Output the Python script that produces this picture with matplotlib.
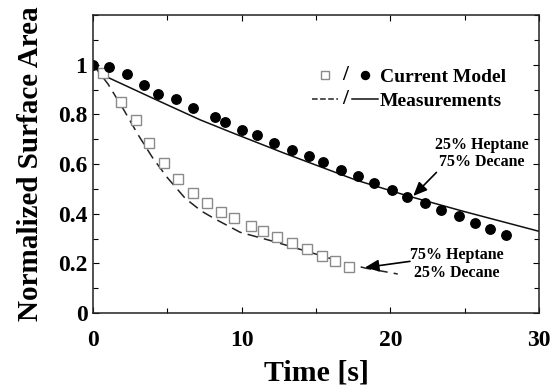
"""Normalized surface area vs time: current model against measurements."""

import matplotlib
matplotlib.use('Agg')
from matplotlib import pyplot as plt
from matplotlib.legend_handler import HandlerBase
from matplotlib.lines import Line2D
from matplotlib.text import Text
from matplotlib.ticker import FixedLocator, MultipleLocator


# Current model, 75% heptane / 25% decane (open squares)
model_hep_t = [0.65, 1.9, 2.9, 3.8, 4.8, 5.7, 6.7, 7.65, 8.6, 9.5, 10.6, 11.45,
               12.4, 13.4, 14.4, 15.4, 16.3, 17.2]
model_hep_a = [0.968, 0.85, 0.777, 0.684, 0.606, 0.538, 0.482, 0.441, 0.408, 0.383,
               0.352, 0.332, 0.306, 0.282, 0.258, 0.231, 0.209, 0.184]

# Current model, 25% heptane / 75% decane (filled circles)
model_dec_t = [0, 1.1, 2.3, 3.4, 4.4, 5.6, 6.7, 8.2, 8.9, 10.0, 11.0, 12.2, 13.4,
               14.5, 15.5, 16.7, 17.8, 18.9, 20.1, 21.1, 22.3, 23.4, 24.6, 25.7,
               26.7, 27.8]
model_dec_a = [1.0, 0.99, 0.964, 0.917, 0.883, 0.861, 0.824, 0.789, 0.768, 0.735,
               0.715, 0.686, 0.656, 0.631, 0.607, 0.575, 0.553, 0.522, 0.494, 0.468,
               0.443, 0.413, 0.389, 0.364, 0.339, 0.314]

# Measurements, 75% heptane / 25% decane (dashed)
meas_hep_t = [0, 1.0, 2.1, 3.0, 4.0, 5.0, 6.2, 7.3, 8.2, 9.9, 12.1, 14.4, 16.6,
              18.3, 20.5]
meas_hep_a = [1.0, 0.923, 0.815, 0.721, 0.626, 0.545, 0.462, 0.41, 0.379, 0.325,
              0.289, 0.248, 0.208, 0.181, 0.157]

# Measurements, 25% heptane / 75% decane (solid)
meas_dec_t = [0, 0.7, 4.2, 7.2, 9.4, 12.8, 17.7, 21.2, 25.0, 30.0]
meas_dec_a = [1.0, 0.957, 0.86, 0.778, 0.725, 0.645, 0.535, 0.471, 0.408, 0.329]

yticks = [0, 0.2, 0.4, 0.6, 0.8, 1.0]
ytick_labels = ['0', '0.2', '0.4', '0.6', '0.8', '1']
xticks = [0, 10, 20, 30]

FONT = 'Liberation Serif'
plt.rcParams['font.family'] = FONT
plt.rcParams['font.weight'] = 'bold'


class PairHandler(HandlerBase):
    """Legend entry drawn as: first symbol / second symbol."""

    def create_artists(self, legend, orig_handle, xdescent, ydescent,
                       width, height, fontsize, trans):
        y = height / 2 - ydescent
        seg = width * 0.4
        arts = []
        for h, x0 in ((orig_handle[0], -xdescent),
                      (orig_handle[1], width - seg - xdescent)):
            if h.get_linestyle() in ('None', ''):
                a = Line2D([x0 + seg / 2], [y], ls='None', marker=h.get_marker(),
                           markersize=h.get_markersize() * 0.85,
                           mfc=h.get_markerfacecolor(), mec=h.get_markeredgecolor(),
                           mew=h.get_markeredgewidth())
            else:
                a = Line2D([x0, x0 + seg], [y, y], color=h.get_color(),
                           lw=h.get_linewidth(), ls=h.get_linestyle())
            a.set_transform(trans)
            arts.append(a)
        s = Text(width / 2 - xdescent, y, '/', ha='center', va='center',
                 fontsize=fontsize * 1.1, fontweight='bold', family=FONT)
        s.set_transform(trans)
        arts.append(s)
        return arts


fig = plt.figure(figsize=(5.6, 3.9), dpi=100)
ax = fig.add_axes([93 / 560, 1 - 313 / 390, 446 / 560, 298 / 390])

dash, = ax.plot(meas_hep_t, meas_hep_a, color='#222222', lw=1.1, ls=(0, (7, 4)))
solid, = ax.plot(meas_dec_t, meas_dec_a, color='#111111', lw=1.1)
sq, = ax.plot(model_hep_t, model_hep_a, ls='None', marker='s', ms=7.5,
              mfc='white', mec='#8a8a8a', mew=1.0)
circ, = ax.plot(model_dec_t, model_dec_a, ls='None', marker='o', ms=6.8,
                mfc='black', mec='black')

ax.set_xlim(0, 30)
ax.set_ylim(0, 1.2)
ax.xaxis.set_major_locator(FixedLocator(xticks))
ax.xaxis.set_minor_locator(MultipleLocator(5))
ax.yaxis.set_major_locator(FixedLocator(yticks))
ax.yaxis.set_minor_locator(MultipleLocator(0.1))
ax.set_yticklabels(ytick_labels)
ax.tick_params(which='both', direction='in', top=True, right=True,
               width=0.8, labelsize=17)
ax.tick_params(which='major', length=4.5)
ax.tick_params(which='minor', length=3.5)
ax.tick_params(axis='x', pad=12)
ax.tick_params(axis='y', pad=4)
for sp in ax.spines.values():
    sp.set_linewidth(1.1)
    sp.set_color('#222222')

ax.set_xlabel('Time [s]', fontsize=21.5, fontweight='bold', labelpad=6)
ax.set_ylabel('Normalized Surface Area', fontsize=21, fontweight='bold', labelpad=10)

ax.legend([(sq, circ), (dash, solid)], ['Current Model', 'Measurements'],
          handler_map={tuple: PairHandler()}, loc='upper left',
          bbox_to_anchor=(0.491, 0.82), frameon=False, borderpad=0,
          borderaxespad=0, handlelength=3.4, handletextpad=0.1,
          labelspacing=0.3, prop={'family': FONT, 'weight': 'bold', 'size': 14})

arrow = dict(arrowstyle='-|>,head_length=0.7,head_width=0.3', color='black',
             lw=1.2, shrinkA=0, shrinkB=0, mutation_scale=12)
ax.text(26.16, 0.642, '25% Heptane\n75% Decane', ha='center', va='center',
        fontsize=11.5, fontweight='bold', linespacing=1.15)
ax.annotate('', xy=(21.54, 0.471), xytext=(23.1, 0.566), arrowprops=arrow)
ax.text(24.48, 0.198, '75% Heptane\n25% Decane', ha='center', va='center',
        fontsize=11.5, fontweight='bold', linespacing=1.15)
ax.annotate('', xy=(18.29, 0.183), xytext=(21.32, 0.208), arrowprops=arrow)

plt.savefig('out.png', dpi=100)
